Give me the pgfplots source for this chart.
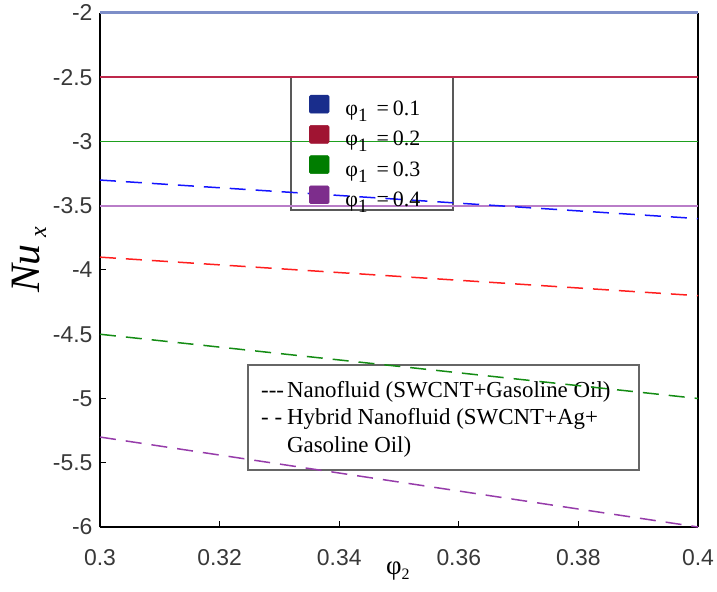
\documentclass[border=0pt]{standalone}
\usepackage{fontspec}
\setmainfont{Liberation Serif}
\newfontfamily\arialfont{Liberation Sans}
\usepackage{pgfplots}
\pgfplotsset{compat=1.18}
\definecolor{lineBlue}{RGB}{125,142,200}
\definecolor{lineRed}{RGB}{190,40,75}
\definecolor{lineGreen}{RGB}{30,160,30}
\definecolor{linePurple}{RGB}{185,125,200}
\definecolor{dashBlue}{RGB}{20,20,255}
\definecolor{dashRed}{RGB}{255,30,30}
\definecolor{dashGreen}{RGB}{20,140,20}
\definecolor{dashPurple}{RGB}{150,60,170}
\definecolor{boxBlue}{RGB}{25,45,140}
\definecolor{boxRed}{RGB}{160,20,50}
\definecolor{boxGreen}{RGB}{0,125,0}
\definecolor{boxPurple}{RGB}{125,45,140}
\newcommand{\phione}{φ\raisebox{-6bp}{\fontsize{19}{19}\selectfont 1}\hspace{9bp}=\hspace{4bp}}
\begin{document}
\begin{tikzpicture}
\begin{axis}[
  at={(0,0)}, anchor=south west,
  scale only axis, width=598bp, height=514bp,
  xmin=0.3, xmax=0.4, ymin=-6, ymax=-2,
  xtick={0.3,0.32,0.34,0.36,0.38,0.4},
  ytick={-6,-5.5,-5,-4.5,-4,-3.5,-3,-2.5,-2},
  axis x line*=bottom, axis y line*=box,
  axis line style={-, black, line width=1.3bp},
  tick align=inside, ytick pos=left, xtick pos=bottom,
  major tick length=6bp,
  tick style={black, line width=1bp},
  /pgf/number format/assume math mode=true,
  ticklabel style={font=\arialfont\fontsize{23}{23}\selectfont, text=black!78},
  xticklabel style={yshift=-19bp},
  yticklabel style={xshift=-4bp},
  clip=false,
  ylabel={\textit{Nu}\hspace{7bp}\raisebox{-7bp}{\fontsize{24}{24}\selectfont\textit{x}}},
  ylabel style={at={(axis description cs:-0.119,0.52)}, anchor=center, font=\fontsize{42}{42}\selectfont},
  xlabel={φ\raisebox{-5bp}{\fontsize{16}{16}\selectfont 2}},
  xlabel style={at={(axis description cs:0.498,-0.0856)}, anchor=center, font=\fontsize{27}{27}\selectfont},
  legend style={at={(axis description cs:0.3495,0.8405)}, anchor=north west,
    draw=none, fill=none, inner sep=0pt, outer sep=0pt,
    row sep=3.5bp, column sep=16bp,
    font=\fontsize{22}{22}\selectfont,
    nodes={inner sep=0pt, text height=15bp, text depth=6bp}},
  legend cell align=left,
]
\addlegendimage{legend image code/.code={\fill[boxBlue, rounded corners=1.5bp] (0bp,-2bp) rectangle (20bp,16bp);}}
\addlegendentry{\phione 0.1}
\addlegendimage{legend image code/.code={\fill[boxRed, rounded corners=1.5bp] (0bp,-2bp) rectangle (20bp,16bp);}}
\addlegendentry{\phione 0.2}
\addlegendimage{legend image code/.code={\fill[boxGreen, rounded corners=1.5bp] (0bp,-2bp) rectangle (20bp,16bp);}}
\addlegendentry{\phione 0.3}
\addlegendimage{legend image code/.code={\fill[boxPurple, rounded corners=1.5bp] (0bp,-2bp) rectangle (20bp,16bp);}}
\addlegendentry{\phione 0.4}

% legend frames and second legend text
\draw[black!65, line width=2.2bp] (axis description cs:0.3194,0.8755) rectangle (axis description cs:0.5903,0.6167);
\draw[black!60, line width=2bp] (axis description cs:0.2475,0.3152) rectangle (axis description cs:0.9013,0.1109);
\node[anchor=base west, inner sep=0pt, font=\fontsize{23}{28}\selectfont]
  at (axis description cs:0.2692,0.2529)
  {\begin{tabular}[t]{@{}l@{\hspace{3bp}}l@{}}
   {-}{-}{-} & Nanofluid (SWCNT+Gasoline Oil)\\
   - - & Hybrid Nanofluid (SWCNT+Ag+\\
       & Gasoline Oil)
   \end{tabular}};

% Nanofluid (solid)
\addplot[lineBlue, line width=3bp, forget plot] coordinates {(0.3,-2) (0.4,-2)};
\addplot[lineRed, line width=1.5bp, forget plot] coordinates {(0.3,-2.5) (0.4,-2.5)};
\addplot[draw=lineGreen, line width=1.8bp, forget plot] coordinates {(0.3,-3.0) (0.4,-3.0)};
\addplot[linePurple, line width=1.8bp, forget plot] coordinates {(0.3,-3.5) (0.4,-3.5)};
% Hybrid nanofluid (dashed)
\addplot[dashBlue, line width=1.5bp, dash pattern=on 16bp off 10bp, forget plot] coordinates {(0.3,-3.3) (0.4,-3.6)};
\addplot[dashRed, line width=1.5bp, dash pattern=on 16bp off 10bp, forget plot] coordinates {(0.3,-3.9) (0.4,-4.2)};
\addplot[dashGreen, line width=1.5bp, dash pattern=on 16bp off 10bp, forget plot] coordinates {(0.3,-4.5) (0.4,-5.0)};
\addplot[dashPurple, line width=1.5bp, dash pattern=on 16bp off 10bp, forget plot] coordinates {(0.3,-5.3) (0.4,-6.0)};
\end{axis}
\pgfresetboundingbox
\path[use as bounding box] (-100bp,-65bp) rectangle (617bp,527bp);
\end{tikzpicture}
\end{document}
